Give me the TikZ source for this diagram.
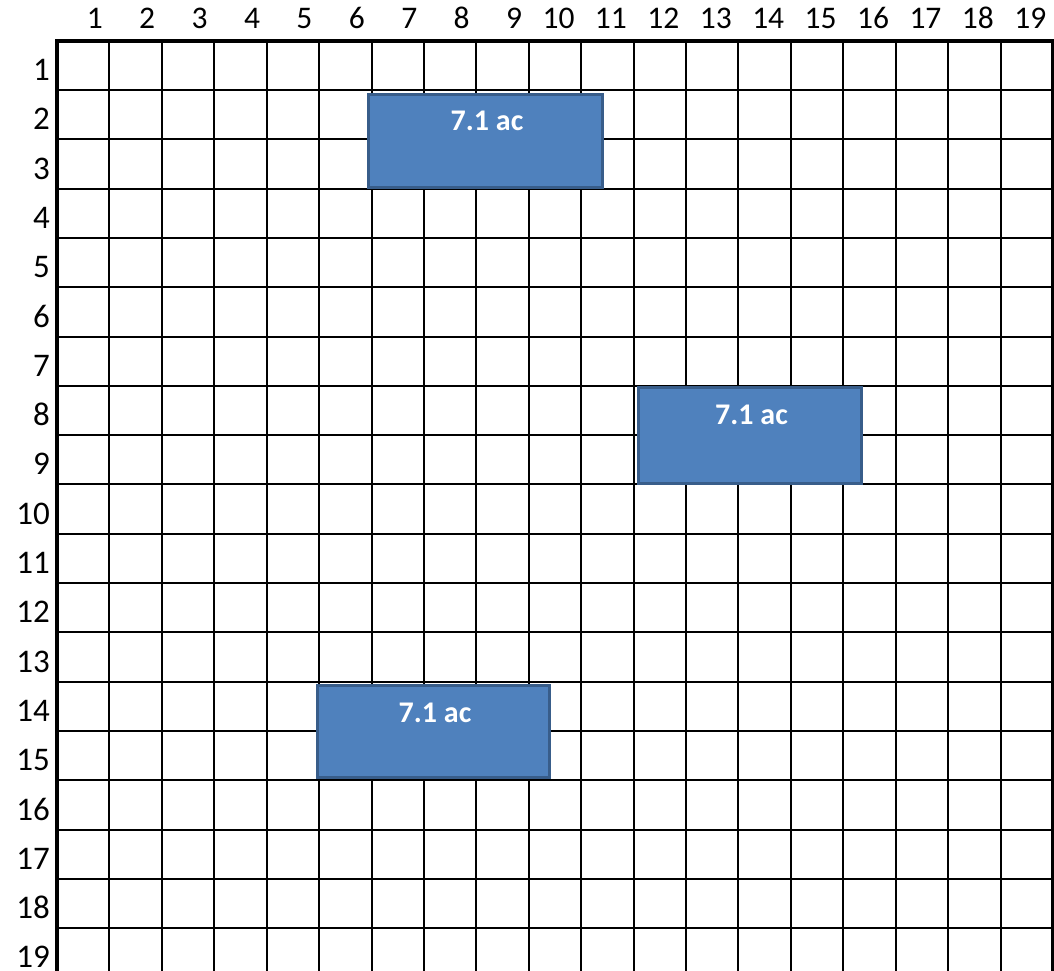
\documentclass[tikz,border=0pt]{standalone}
\usepackage{fontspec}
\setmainfont{Carlito}
\definecolor{plotfill}{HTML}{4F81BD}
\definecolor{plotedge}{HTML}{385D8A}
\begin{document}
\begin{tikzpicture}[x=1pt,y=-1pt,
  gridline/.style={line width=2pt,black},
  gridborder/.style={line width=4pt,black},
  plot/.style={draw=plotedge,fill=plotfill,line width=3pt,rectangle,outer sep=0pt,inner sep=0pt,anchor=north west},
  plotlbl/.style={text=white,font=\fontsize{30}{31}\selectfont\bfseries,anchor=base,inner sep=0pt},
  collbl/.style={font=\fontsize{31.5}{32}\selectfont,anchor=base east,inner sep=0pt},
  rowlbl/.style={font=\fontsize{33}{33}\selectfont,anchor=base east,inner sep=0pt}]
\clip (0,0) rectangle (1054,971);
\fill[white] (0,0) rectangle (1054,971);
\def\cw{52.42}
\def\rh{49.3}
\def\gx{57}
\def\gy{40.7}
\foreach \i in {1,...,18} \draw[gridline] ({\gx+\i*\cw},\gy) -- ({\gx+\i*\cw},985);
\foreach \j in {1,...,18} \draw[gridline] (\gx,{\gy+\j*\rh}) -- (1060,{\gy+\j*\rh});
\draw[gridborder] (\gx,985) -- (\gx,41.5) -- ({\gx+19*\cw},41.5) -- ({\gx+19*\cw},985);
\foreach \i in {1,...,19} \node[collbl] (c\i) at ({\gx+\i*\cw-6.5},28.5) {\i};
\foreach \j in {1,...,19} \node[rowlbl] (r\j) at (50,{\gy+\j*\rh-9.5}) {\j};
\node[plot,minimum width=234pt,minimum height=93pt] (b1) at (368.5,94.5) {};
\node[plot,minimum width=223pt,minimum height=96pt] (b2) at (638.5,387.5) {};
\node[plot,minimum width=232pt,minimum height=92pt] (b3) at (317.5,685.5) {};
\node[plotlbl] (t1) at ([xshift=1.5pt,yshift=-36.5pt]b1.north) {7.1 ac};
\node[plotlbl] (t2) at ([xshift=1.5pt,yshift=-36.5pt]b2.north) {7.1 ac};
\node[plotlbl] (t3) at ([xshift=1.5pt,yshift=-36.5pt]b3.north) {7.1 ac};
\end{tikzpicture}
\end{document}
